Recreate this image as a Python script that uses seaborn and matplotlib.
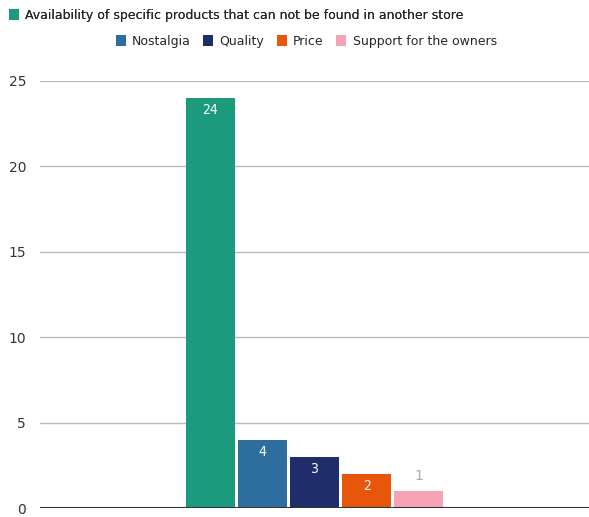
import matplotlib
matplotlib.use("Agg")
import matplotlib.pyplot as plt
import seaborn as sns
import pandas as pd

series = ["Availability of specific products that can not be found in another store",
          "Nostalgia", "Quality", "Price", "Support for the owners"]
values = [24, 4, 3, 2, 1]
colors = ["#1b9a7e", "#2e6e9e", "#1f2e6a", "#e8560c", "#f5a3b5"]
yticks = [0, 5, 10, 15, 20, 25]

df = pd.DataFrame({"cat": ["All"] * len(series), "series": series, "value": values})

sns.set_theme(style="white")
plt.rcParams['font.family'] = ['DejaVu Sans']

fig = plt.figure(figsize=(5.89, 5.17), dpi=100)
ax = fig.add_axes([40/589, 9/517, 549/589, (508-81)/517])

sns.barplot(data=df, x="cat", y="value", hue="series", hue_order=series,
            palette=colors, width=0.475, gap=0.06, ax=ax, legend=False,
            edgecolor="none", saturation=1)

ax.set_ylim(0, 25)
ax.set_xlim(-0.5, 0.5)
ax.set_yticks(yticks)
ax.set_yticklabels([str(t) for t in yticks], fontsize=10, color="#333333")
ax.tick_params(axis="y", length=0, pad=10)
ax.set_xticks([])
ax.set_xlabel("")
ax.set_ylabel("")
for y in yticks[1:]:
    ax.axhline(y, color="#bbbbbb", lw=1, zorder=0)
ax.axhline(0, color="#333333", lw=1.5, zorder=3)
for s in ax.spines.values():
    s.set_visible(False)

handles = []
for i, cont in enumerate(ax.containers):
    bar = cont.patches[0]
    handles.append(bar)
    v = values[i]
    cx = bar.get_x() + bar.get_width() / 2
    if v >= 2:
        ax.text(cx, v - 0.7, str(v), ha="center", va="center", color="white", fontsize=10, stretch="condensed")
    else:
        ax.text(cx, v + 0.9, str(v), ha="center", va="center", color="#aaaaaa", fontsize=10)

leg1 = fig.legend([handles[0]], [series[0]], loc="upper left", bbox_to_anchor=(0.0, 1.0),
                  frameon=False, fontsize=9, handlelength=0.8, handleheight=1.0, handletextpad=0.5,
                  borderaxespad=0.3)
fig.add_artist(leg1)
fig.legend(handles[1:], series[1:], loc="upper center", bbox_to_anchor=(0.52, 0.955), ncol=4,
           frameon=False, fontsize=9, handlelength=0.8, handleheight=1.0, handletextpad=0.5,
           columnspacing=1.0)

fig.savefig("out.png", dpi=100)
